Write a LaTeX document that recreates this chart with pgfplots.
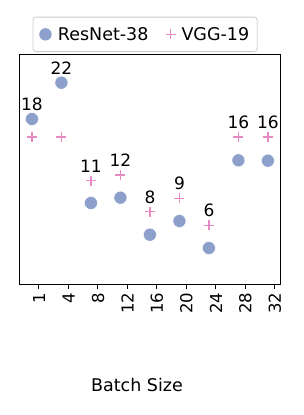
\documentclass[border=0pt]{standalone}
\usepackage{pgfplots}
\pgfplotsset{compat=1.18}
\usepackage{fontspec}
\setmainfont{DejaVu Sans}
\definecolor{resblue}{HTML}{8DA0CB}
\definecolor{vggpink}{HTML}{E78AC3}
\begin{document}
\begin{tikzpicture}
\path[use as bounding box] (0,0) rectangle (304pt,-415pt);
\begin{axis}[
  at={(20pt,-284pt)}, anchor=south west,
  scale only axis, width=260pt, height=230pt,
  xmin=-0.644, xmax=8.17, ymin=0, ymax=23,
  xtick={0,1,2,3,4,5,6,7,8},
  xticklabels={1,4,8,12,16,20,24,28,32},
  x tick label style={rotate=90, anchor=east, font=\fontsize{16.5}{19}\selectfont},
  xtick pos=bottom, tick align=outside,
  major tick length=5pt,
  ytick=\empty,
  axis line style={line width=1pt},
  every tick/.style={black, line width=1pt},
  xlabel={Batch Size},
  xlabel style={at={(axis description cs:0.45,-0.439)}, anchor=center, font=\fontsize{17.5}{20}\selectfont},
  legend columns=2,
  legend style={at={(axis description cs:0.481,1)}, anchor=south, yshift=2pt,
    draw=black!20, rounded corners=3pt, line width=0.8pt,
    inner ysep=8pt, inner xsep=6pt,
    font=\fontsize{17.5}{20}\selectfont,
    /tikz/every odd column/.append style={column sep=4pt}},
  legend cell align=left,
]
\addplot[only marks, mark=*, mark size=6.5pt, mark options={fill=resblue, draw=white, line width=0.4pt}]
  coordinates {(-0.24,16.5) (0.76,20.13) (1.76,8.1) (2.76,8.63) (3.76,4.93) (4.76,6.3) (5.76,3.6) (6.76,12.37) (7.76,12.33)};
\addlegendentry{ResNet-38\rule{15pt}{0pt}}
\addplot[only marks, mark=+, mark size=5pt, mark options={draw=vggpink, line width=1.4pt}]
  coordinates {(-0.24,14.7) (0.76,14.7) (1.76,10.33) (2.76,10.9) (3.76,7.23) (4.76,8.57) (5.76,5.87) (6.76,14.7) (7.76,14.7)};
\addlegendentry{VGG-19}
\addplot[draw=none, mark=none, forget plot,
  nodes near coords, point meta=explicit symbolic,
  every node near coord/.append style={anchor=base, yshift=8.5pt, inner sep=0pt, text=black, font=\fontsize{17}{20}\selectfont}]
  coordinates {(-0.24,16.5)[18] (0.76,20.13)[22] (1.76,10.33)[11] (2.76,10.9)[12] (3.76,7.23)[8] (4.76,8.57)[9] (5.76,5.87)[6] (6.76,14.7)[16] (7.76,14.7)[16]};
\end{axis}
\end{tikzpicture}
\end{document}
